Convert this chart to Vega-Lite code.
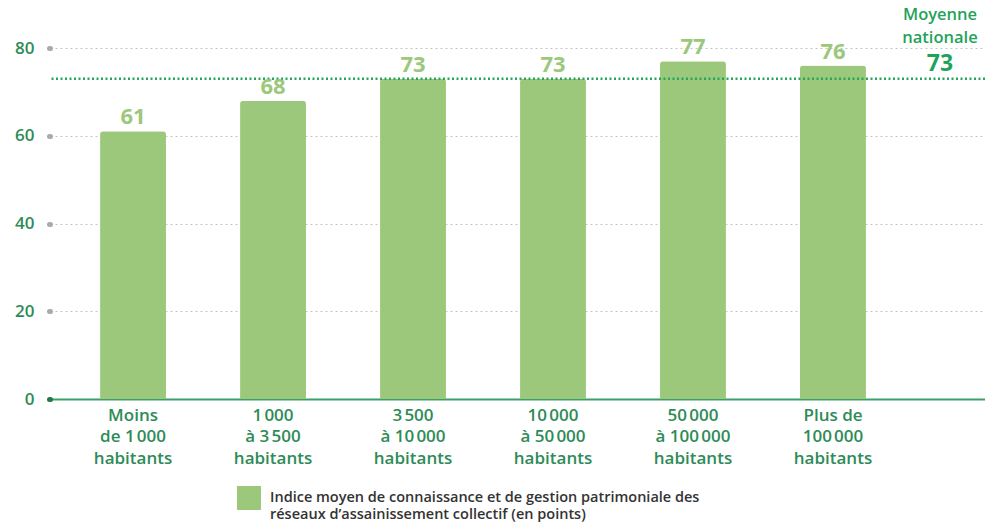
{
  "$schema": "https://vega.github.io/schema/vega-lite/v6.json",
  "width": 935,
  "height": 351,
  "autosize": {"type": "none"},
  "padding": {"left": 50, "top": 48, "right": 0, "bottom": 123},
  "background": "white",
  "config": {"view": {"stroke": null}, "font": "Open Sans"},
  "data": {
    "values": [
      {"tranche": "Moins\nde 1\u202f000\nhabitants", "indice": 61, "serie": "Indice moyen de connaissance et de gestion patrimoniale des réseaux d’assainissement collectif (en points)"},
      {"tranche": "1\u202f000\nà 3\u202f500\nhabitants", "indice": 68, "serie": "Indice moyen de connaissance et de gestion patrimoniale des réseaux d’assainissement collectif (en points)"},
      {"tranche": "3\u202f500\nà 10\u202f000\nhabitants", "indice": 73, "serie": "Indice moyen de connaissance et de gestion patrimoniale des réseaux d’assainissement collectif (en points)"},
      {"tranche": "10\u202f000\nà 50\u202f000\nhabitants", "indice": 73, "serie": "Indice moyen de connaissance et de gestion patrimoniale des réseaux d’assainissement collectif (en points)"},
      {"tranche": "50\u202f000\nà 100\u202f000\nhabitants", "indice": 77, "serie": "Indice moyen de connaissance et de gestion patrimoniale des réseaux d’assainissement collectif (en points)"},
      {"tranche": "Plus de\n100\u202f000\nhabitants", "indice": 76, "serie": "Indice moyen de connaissance et de gestion patrimoniale des réseaux d’assainissement collectif (en points)"}
    ]
  },
  "encoding": {
    "x": {
      "field": "tranche",
      "type": "nominal",
      "sort": null,
      "scale": {"paddingInner": 0.529, "paddingOuter": 0.604, "align": 0.296},
      "axis": {
        "title": null,
        "labelExpr": "split(datum.label, '\\n')",
        "labelAngle": 0,
        "labelFontSize": 17,
        "labelFontWeight": 600,
        "labelColor": "#2e8b57",
        "labelPadding": 8,
        "labelLineHeight": 21.5,
        "labelBaseline": "top",
        "ticks": false,
        "domainColor": "#3a9f68",
        "domainWidth": 2
      }
    },
    "y": {
      "field": "indice",
      "type": "quantitative",
      "scale": {"domain": [0, 80]},
      "axis": {
        "title": null,
        "values": [0, 20, 40, 60, 80],
        "domain": false,
        "labelFontSize": 17,
        "labelFontWeight": 600,
        "labelColor": "#2e8b57",
        "labelPadding": 15,
        "tickSize": 1,
        "tickWidth": 5,
        "tickCap": "round",
        "tickColor": {"condition": {"test": "datum.value === 0", "value": "#217a45"}, "value": "#aaaaaa"},
        "grid": true,
        "gridDash": [2, 3],
        "gridColor": "#c4c4c4",
        "gridWidth": 1.2
      }
    }
  },
  "layer": [
    {
      "mark": {"type": "bar", "cornerRadiusTopLeft": 3, "cornerRadiusTopRight": 3},
      "encoding": {
        "color": {
          "field": "serie",
          "type": "nominal",
          "scale": {"range": ["#9bc87a"]},
          "legend": {
            "title": null,
            "orient": "none",
            "legendX": 187,
            "legendY": 438,
            "symbolType": "square",
            "symbolSize": 576,
            "symbolStrokeWidth": 0,
            "symbolOpacity": 1,
            "labelFontSize": 14.5,
            "labelFontWeight": 600,
            "labelColor": "#333333",
            "labelLimit": 1000,
            "labelOffset": 9,
            "labelLineHeight": 17,
            "labelExpr": "[slice(datum.label, 0, indexof(datum.label, ' réseaux')), slice(datum.label, indexof(datum.label, ' réseaux') + 1)]"
          }
        }
      }
    },
    {
      "data": {"values": [{"moyenne": 73}]},
      "mark": {"type": "rule", "color": "#26a65b", "strokeDash": [2, 2.5], "strokeWidth": 2.5},
      "encoding": {"x": null, "y": {"field": "moyenne", "type": "quantitative"}}
    },
    {
      "mark": {"type": "text", "fontSize": 22, "fontWeight": 700, "color": "#9bc87a", "baseline": "alphabetic", "dy": -7},
      "encoding": {"text": {"field": "indice", "type": "quantitative"}}
    },
    {
      "data": {"values": [{"moyenne": 73}]},
      "mark": {"type": "text", "fontSize": 16.5, "fontWeight": 600, "color": "#1fa35a", "baseline": "alphabetic", "lineHeight": 23, "dx": 107, "dy": -59},
      "encoding": {
        "x": {"datum": "Plus de\n100\u202f000\nhabitants"},
        "y": {"field": "moyenne", "type": "quantitative"},
        "text": {"value": ["Moyenne", "nationale"]}
      }
    },
    {
      "data": {"values": [{"moyenne": 73}]},
      "mark": {"type": "text", "fontSize": 23, "fontWeight": 700, "color": "#1fa35a", "baseline": "alphabetic", "dx": 107, "dy": -8},
      "encoding": {
        "x": {"datum": "Plus de\n100\u202f000\nhabitants"},
        "y": {"field": "moyenne", "type": "quantitative"},
        "text": {"field": "moyenne", "type": "quantitative"}
      }
    }
  ]
}
